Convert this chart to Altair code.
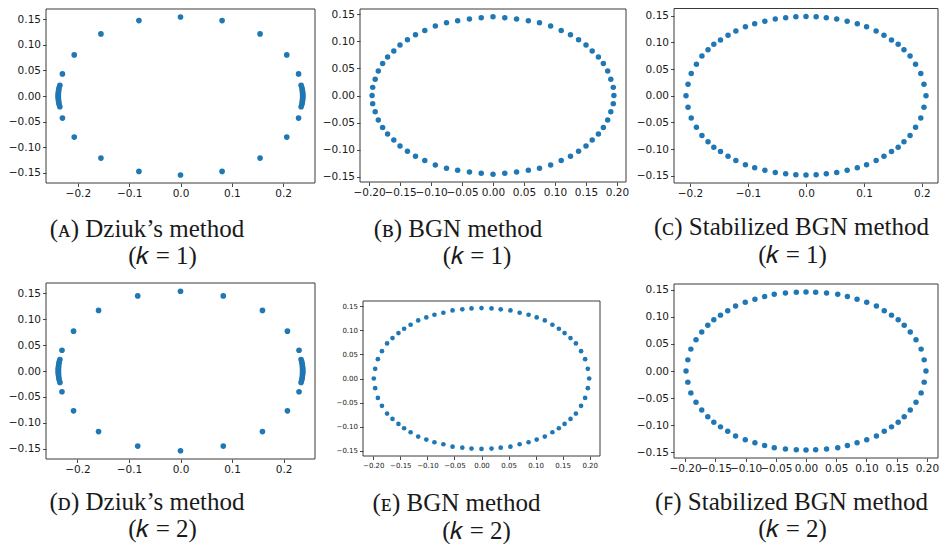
import altair as alt
import pandas as pd

# ---------------- data ----------------
# (A) Dziuk's method, k = 1
A_x = [0.0, 0.081, 0.155, 0.207, 0.230, -0.081, -0.155, -0.207, -0.230,
       0.0, 0.081, 0.155, 0.207, 0.230, -0.081, -0.155, -0.207, -0.230,
       0.235, 0.2365, 0.2372, 0.2376, 0.2379, 0.238, 0.238, 0.238, 0.238, 0.238, 0.2379, 0.2376, 0.2372, 0.2365, 0.235,
       -0.235, -0.2365, -0.2372, -0.2376, -0.2379, -0.238, -0.238, -0.238, -0.238, -0.238, -0.2379, -0.2376, -0.2372, -0.2365, -0.235]
A_y = [0.154, 0.147, 0.121, 0.080, 0.043, 0.147, 0.121, 0.080, 0.043,
       -0.154, -0.147, -0.121, -0.080, -0.043, -0.147, -0.121, -0.080, -0.043,
       0.021, 0.016, 0.012, 0.009, 0.006, 0.004, 0.002, 0.0, -0.002, -0.004, -0.006, -0.009, -0.012, -0.016, -0.021,
       0.021, 0.016, 0.012, 0.009, 0.006, 0.004, 0.002, 0.0, -0.002, -0.004, -0.006, -0.009, -0.012, -0.016, -0.021]

# (D) Dziuk's method, k = 2
D_x = [0.0, 0.083, 0.159, 0.2075, 0.230, -0.083, -0.159, -0.2075, -0.230,
       0.0, 0.083, 0.159, 0.2075, 0.230, -0.083, -0.159, -0.2075, -0.230,
       0.234, 0.2355, 0.2362, 0.2366, 0.2369, 0.237, 0.237, 0.237, 0.237, 0.237, 0.2369, 0.2366, 0.2362, 0.2355, 0.234,
       -0.234, -0.2355, -0.2362, -0.2366, -0.2369, -0.237, -0.237, -0.237, -0.237, -0.237, -0.2369, -0.2366, -0.2362, -0.2355, -0.234]
D_y = [0.154, 0.145, 0.117, 0.077, 0.040, 0.145, 0.117, 0.077, 0.040,
       -0.154, -0.145, -0.117, -0.077, -0.040, -0.145, -0.117, -0.077, -0.040,
       0.022, 0.017, 0.013, 0.009, 0.006, 0.004, 0.002, 0.0, -0.002, -0.004, -0.006, -0.009, -0.013, -0.017, -0.022,
       0.022, 0.017, 0.013, 0.009, 0.006, 0.004, 0.002, 0.0, -0.002, -0.004, -0.006, -0.009, -0.013, -0.017, -0.022]

# (B) BGN method, k = 1
B_x = [-0.195, -0.194, -0.190, -0.185, -0.178, -0.170, -0.160, -0.150, -0.138, -0.125, -0.110, -0.093, -0.075, -0.057, -0.038, -0.019,
       0.0, 0.019, 0.038, 0.057, 0.075, 0.093, 0.110, 0.125, 0.138, 0.150, 0.160, 0.170, 0.178, 0.185, 0.190, 0.194, 0.195,
       0.194, 0.190, 0.185, 0.178, 0.170, 0.160, 0.150, 0.138, 0.125, 0.110, 0.093, 0.075, 0.057, 0.038, 0.019,
       0.0, -0.019, -0.038, -0.057, -0.075, -0.093, -0.110, -0.125, -0.138, -0.150, -0.160, -0.170, -0.178, -0.185, -0.190, -0.194]
B_y = [0.0, 0.015, 0.030, 0.045, 0.059, 0.071, 0.082, 0.093, 0.103, 0.112, 0.120, 0.128, 0.134, 0.138, 0.141, 0.1435,
       0.145, 0.1435, 0.141, 0.138, 0.134, 0.128, 0.120, 0.112, 0.103, 0.093, 0.082, 0.071, 0.059, 0.045, 0.030, 0.015, 0.0,
       -0.015, -0.030, -0.045, -0.059, -0.071, -0.082, -0.093, -0.103, -0.112, -0.120, -0.128, -0.134, -0.138, -0.141, -0.1435,
       -0.145, -0.1435, -0.141, -0.138, -0.134, -0.128, -0.120, -0.112, -0.103, -0.093, -0.082, -0.071, -0.059, -0.045, -0.030, -0.015]

# (C) Stabilized BGN method, k = 1
C_x = [-0.207, -0.2035, -0.198, -0.189, -0.1795, -0.169, -0.159, -0.1475, -0.1345, -0.121, -0.1045, -0.0885, -0.071, -0.053, -0.035, -0.0175,
       0.0, 0.0175, 0.035, 0.053, 0.071, 0.0885, 0.1045, 0.121, 0.1345, 0.1475, 0.159, 0.169, 0.1795, 0.189, 0.198, 0.2035, 0.207,
       0.2035, 0.198, 0.189, 0.1795, 0.169, 0.159, 0.1475, 0.1345, 0.121, 0.1045, 0.0885, 0.071, 0.053, 0.035, 0.0175,
       0.0, -0.0175, -0.035, -0.053, -0.071, -0.0885, -0.1045, -0.121, -0.1345, -0.1475, -0.159, -0.169, -0.1795, -0.189, -0.198, -0.2035]
C_y = [0.0, 0.0214, 0.0416, 0.0592, 0.0744, 0.0863, 0.0964, 0.1046, 0.1134, 0.1216, 0.1292, 0.1348, 0.1399, 0.1437, 0.1462, 0.1481,
       0.1487, 0.1481, 0.1462, 0.1437, 0.1399, 0.1348, 0.1292, 0.1216, 0.1134, 0.1046, 0.0964, 0.0863, 0.0744, 0.0592, 0.0416, 0.0214, 0.0,
       -0.0214, -0.0416, -0.0592, -0.0744, -0.0863, -0.0964, -0.1046, -0.1134, -0.1216, -0.1292, -0.1348, -0.1399, -0.1437, -0.1462, -0.1481,
       -0.1487, -0.1481, -0.1462, -0.1437, -0.1399, -0.1348, -0.1292, -0.1216, -0.1134, -0.1046, -0.0964, -0.0863, -0.0744, -0.0592, -0.0416, -0.0214]

# (E) BGN method, k = 2
E_x = [-0.199, -0.1965, -0.1915, -0.184, -0.1745, -0.1645, -0.1535, -0.143, -0.131, -0.117, -0.102, -0.087, -0.0705, -0.0535, -0.0355, -0.0185,
       0.0, 0.0185, 0.0355, 0.0535, 0.0705, 0.087, 0.102, 0.117, 0.131, 0.143, 0.1535, 0.1645, 0.1745, 0.184, 0.1915, 0.1965, 0.199,
       0.1965, 0.1915, 0.184, 0.1745, 0.1645, 0.1535, 0.143, 0.131, 0.117, 0.102, 0.087, 0.0705, 0.0535, 0.0355, 0.0185,
       0.0, -0.0185, -0.0355, -0.0535, -0.0705, -0.087, -0.102, -0.117, -0.131, -0.143, -0.1535, -0.1645, -0.1745, -0.184, -0.1915, -0.1965]
E_y = [0.0, 0.0202, 0.0403, 0.0569, 0.0729, 0.0840, 0.0944, 0.1035, 0.1118, 0.1208, 0.1271, 0.1326, 0.1368, 0.1417, 0.1438, 0.1458,
       0.1465, 0.1458, 0.1438, 0.1417, 0.1368, 0.1326, 0.1271, 0.1208, 0.1118, 0.1035, 0.0944, 0.0840, 0.0729, 0.0569, 0.0403, 0.0202, 0.0,
       -0.0202, -0.0403, -0.0569, -0.0729, -0.0840, -0.0944, -0.1035, -0.1118, -0.1208, -0.1271, -0.1326, -0.1368, -0.1417, -0.1438, -0.1458,
       -0.1465, -0.1458, -0.1438, -0.1417, -0.1368, -0.1326, -0.1271, -0.1208, -0.1118, -0.1035, -0.0944, -0.0840, -0.0729, -0.0569, -0.0403, -0.0202]

# (F) Stabilized BGN method, k = 2
F_x = [-0.1985, -0.1955, -0.1905, -0.182, -0.1725, -0.1625, -0.1525, -0.1415, -0.1295, -0.1165, -0.1005, -0.0845, -0.0685, -0.0525, -0.034, -0.016,
       0.0, 0.016, 0.034, 0.0525, 0.0685, 0.0845, 0.1005, 0.1165, 0.1295, 0.1415, 0.1525, 0.1625, 0.1725, 0.182, 0.1905, 0.1955, 0.1985,
       0.1955, 0.1905, 0.182, 0.1725, 0.1625, 0.1525, 0.1415, 0.1295, 0.1165, 0.1005, 0.0845, 0.0685, 0.0525, 0.034, 0.016,
       0.0, -0.016, -0.034, -0.0525, -0.0685, -0.0845, -0.1005, -0.1165, -0.1295, -0.1415, -0.1525, -0.1625, -0.1725, -0.182, -0.1905, -0.1955]
F_y = [0.0, 0.0206, 0.0405, 0.0579, 0.0723, 0.0847, 0.0947, 0.1034, 0.1115, 0.1202, 0.1271, 0.1327, 0.1377, 0.1421, 0.1445, 0.1458,
       0.1464, 0.1458, 0.1445, 0.1421, 0.1377, 0.1327, 0.1271, 0.1202, 0.1115, 0.1034, 0.0947, 0.0847, 0.0723, 0.0579, 0.0405, 0.0206, 0.0,
       -0.0206, -0.0405, -0.0579, -0.0723, -0.0847, -0.0947, -0.1034, -0.1115, -0.1202, -0.1271, -0.1327, -0.1377, -0.1421, -0.1445, -0.1458,
       -0.1464, -0.1458, -0.1445, -0.1421, -0.1377, -0.1327, -0.1271, -0.1202, -0.1115, -0.1034, -0.0947, -0.0847, -0.0723, -0.0579, -0.0405, -0.0206]

# tick labels
ticks_x_01 = [-0.2, -0.1, 0.0, 0.1, 0.2]
ticks_x_005 = [-0.20, -0.15, -0.10, -0.05, 0.0, 0.05, 0.10, 0.15, 0.20]
ticks_y = [-0.15, -0.10, -0.05, 0.0, 0.05, 0.10, 0.15]

# captions
caption_titles = ["(ᴀ) Dziuk’s method", "(ʙ) BGN method", "(ᴄ) Stabilized BGN method",
                  "(ᴅ) Dziuk’s method", "(ᴇ) BGN method", "(ꜰ) Stabilized BGN method"]
caption_k = ["(𝑘 = 1)", "(𝑘 = 1)", "(𝑘 = 1)", "(𝑘 = 2)", "(𝑘 = 2)", "(𝑘 = 2)"]

# ---------------- chart ----------------
W, H = 931, 536
BLUE = "#1f77b4"


def panel(xs, ys, xdom, ydom, xr, yr, xticks, xfmt, fs, dot):
    df = pd.DataFrame({"x": xs, "y": ys})
    xscale = alt.Scale(domain=xdom, range=xr, nice=False, zero=False)
    yscale = alt.Scale(domain=ydom, range=yr, nice=False, zero=False)
    common = dict(title=None, grid=False, domain=False, labelFont="DejaVu Sans",
                  labelFontSize=fs, labelColor="#1a1a1a", tickColor="#333333",
                  tickSize=3.5, tickWidth=0.9, labelPadding=2, labelFlush=False,
                  labelOverlap=False, labelBound=False)
    xaxis = alt.Axis(orient="bottom", offset=yr[0] - H, values=xticks, format=xfmt, **common)
    yaxis = alt.Axis(orient="left", offset=-xr[0], values=ticks_y, format=".2f", **common)
    frame = alt.Chart(pd.DataFrame({"i": [0]})).mark_rect(
        fill="transparent", stroke="#3a3a3a", strokeWidth=1
    ).encode(
        x=alt.X(datum=xdom[0], type="quantitative", scale=xscale, axis=xaxis),
        x2=alt.X2(datum=xdom[1]),
        y=alt.Y(datum=ydom[0], type="quantitative", scale=yscale, axis=yaxis),
        y2=alt.Y2(datum=ydom[1]),
    )
    pts = alt.Chart(df).mark_circle(size=dot, color=BLUE, opacity=1).encode(
        x=alt.X("x:Q", scale=xscale, axis=xaxis),
        y=alt.Y("y:Q", scale=yscale, axis=yaxis),
    )
    return alt.layer(frame, pts)


panels = [
    panel(A_x, A_y, [-0.262, 0.262], [-0.1695, 0.1695], [38, 307], [175, 1], ticks_x_01, ".1f", 10.5, 32),
    panel(B_x, B_y, [-0.2145, 0.2145], [-0.1595, 0.1595], [352, 618], [174, 1], ticks_x_005, ".2f", 10.5, 30),
    panel(C_x, C_y, [-0.2277, 0.2277], [-0.1636, 0.1636], [666, 930], [175, 0.5], ticks_x_01, ".1f", 10.5, 30),
    panel(D_x, D_y, [-0.261, 0.261], [-0.17, 0.17], [38, 307], [451, 275], ticks_x_01, ".1f", 10.5, 32),
    panel(E_x, E_y, [-0.219, 0.219], [-0.1612, 0.1612], [355, 592], [448, 293], ticks_x_005, ".2f", 7, 22),
    panel(F_x, F_y, [-0.2184, 0.2184], [-0.161, 0.161], [666, 930], [450, 276], ticks_x_005, ".2f", 10.5, 30),
]

# caption placement (pixels): (x1, y1, x2, y2)
cap_pos = [(139, 229, 154.5, 256), (450, 229, 469, 256), (783.5, 227, 784.5, 255),
           (139, 502, 154.5, 529), (448.5, 503, 468.5, 531), (783.5, 502, 784.5, 529)]

captions = []
for i in range(6):
    x1, y1, x2, y2 = cap_pos[i]
    for txt, xx, yy in ((caption_titles[i], x1, y1), (caption_k[i], x2, y2)):
        captions.append(
            alt.Chart(pd.DataFrame({"t": [txt]})).mark_text(
                font="Liberation Serif", fontSize=25, align="center",
                baseline="alphabetic", color="#1a1a1a"
            ).encode(x=alt.value(xx), y=alt.value(yy), text="t:N")
        )

chart = alt.layer(*panels, *captions).resolve_scale(
    x="independent", y="independent"
).resolve_axis(
    x="independent", y="independent"
).properties(
    width=W, height=H, padding=0,
    autosize=alt.AutoSizeParams(type="none"),
).configure_view(stroke=None)

chart.save("out.html", embed_options={"renderer": "svg", "actions": False})
